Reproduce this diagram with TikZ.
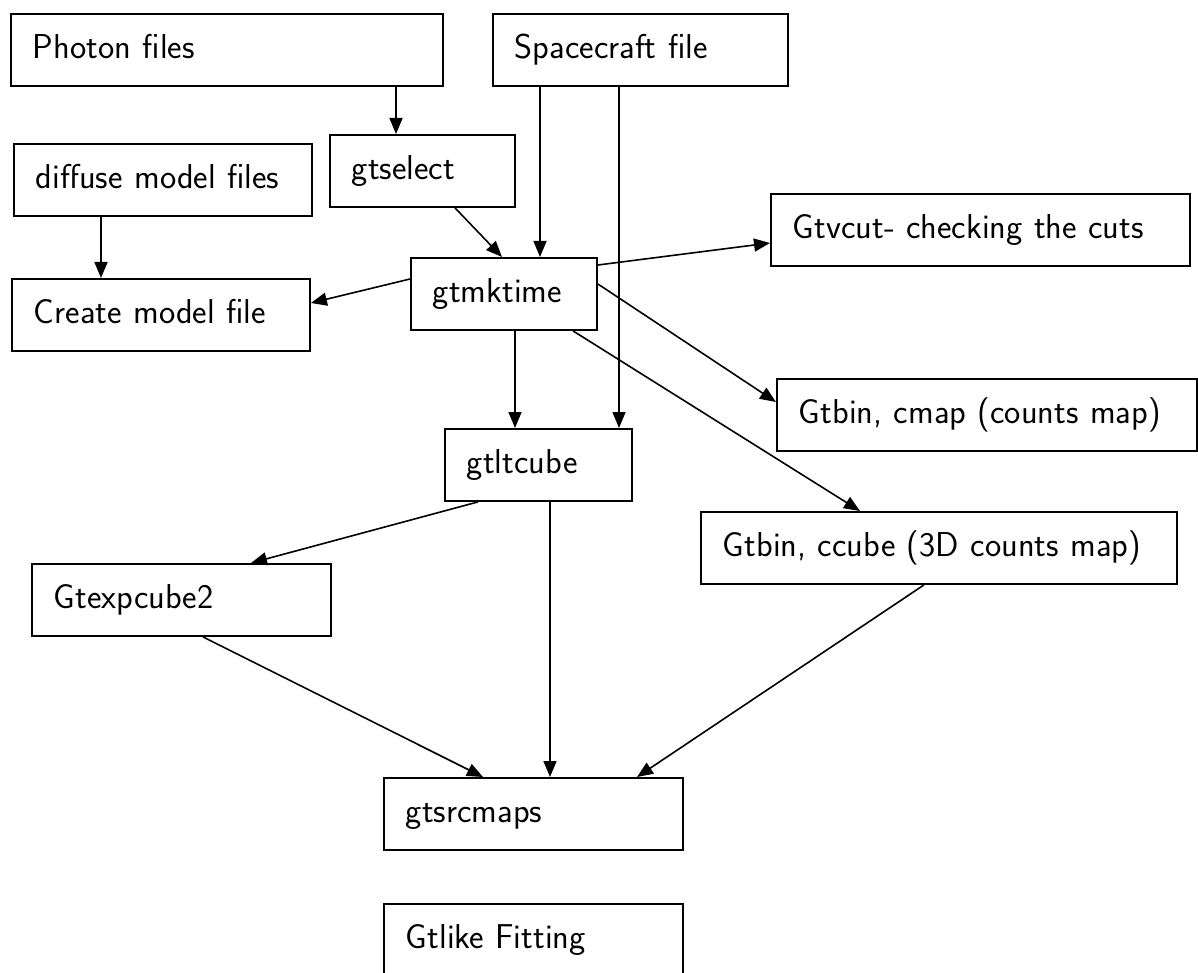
\documentclass[tikz,border=0pt]{standalone}
\usepackage{fontspec}
\usetikzlibrary{arrows.meta}
\begin{document}
\begin{tikzpicture}[x=1pt,y=-1pt,
  box/.style={draw, line width=1.9pt, rectangle, anchor=north west,
    minimum height=72pt, inner xsep=22pt, inner ysep=0pt, align=left,
    text height=24pt, text depth=6pt,
    font=\sffamily\fontsize{34.5}{40}\selectfont},
  link/.style={line width=1.6pt, -{Triangle[length=16pt,width=13pt]}}]
\useasboundingbox (0,0) rectangle (1198,973);
\clip (0,0) rectangle (1198,973);

% process boxes
\node[box, text width=388pt] (photon)   at (10,13)   {Photon files};
\node[box, text width=251pt] (space)    at (492,13)  {Spacecraft file};
\node[box, text width=141pt] (gtselect) at (329,134) {gtselect};
\node[box, text width=254pt] (diffuse)  at (13,143)  {diffuse model files};
\node[box, text width=254pt] (create)   at (11,278)  {Create model file};
\node[box, text width=142pt] (gtmktime) at (410,257) {gtmktime};
\node[box, text width=375pt] (gtvcut)   at (770,193) {Gtvcut- checking the cuts};
\node[box, text width=376pt] (cmap)     at (776,378) {Gtbin, cmap (counts map)};
\node[box, text width=143pt] (ltcube)   at (444,428) {gtltcube};
\node[box, text width=432pt] (ccube)    at (700,511) {Gtbin, ccube (3D counts map)};
\node[box, text width=255pt] (expcube)  at (31,563)  {Gtexpcube2};
\node[box, text width=255pt] (srcmaps)  at (383,777) {gtsrcmaps};
\node[box, text width=255pt, minimum height=100pt, text depth=34pt] (gtlike) at (383,903) {Gtlike Fitting};

% data flow
\draw[link] ([xshift=386pt]photon.south west) -- ([xshift=67pt]gtselect.north west);
\draw[link] ([xshift=88pt]diffuse.south west) -- ([xshift=90pt]create.north west);
\draw[link] ([xshift=126pt]gtselect.south west) -- ([xshift=92pt]gtmktime.north west);
\draw[link] ([xshift=48pt]space.south west) -- ([xshift=130pt]gtmktime.north west);
\draw[link] ([xshift=127pt]space.south west) -- ([xshift=175pt]ltcube.north west);
\draw[link] ([yshift=-22pt]gtmktime.north west) -- ([yshift=-25pt]create.north east);
\draw[link] ([yshift=-8pt]gtmktime.north east) -- ([yshift=-50pt]gtvcut.north west);
\draw[link] ([yshift=-27pt]gtmktime.north east) -- ([yshift=-24pt]cmap.north west);
\draw[link] ([xshift=163pt]gtmktime.south west) -- ([xshift=160pt]ccube.north west);
\draw[link] ([xshift=105pt]gtmktime.south west) -- ([xshift=71pt]ltcube.north west);
\draw[link] ([xshift=34pt]ltcube.south west) -- ([xshift=220pt]expcube.north west);
\draw[link] ([xshift=106pt]ltcube.south west) -- ([xshift=167pt]srcmaps.north west);
\draw[link] ([xshift=172pt]expcube.south west) -- ([xshift=100pt]srcmaps.north west);
\draw[link] ([xshift=224pt]ccube.south west) -- ([xshift=254pt]srcmaps.north west);
\end{tikzpicture}
\end{document}
